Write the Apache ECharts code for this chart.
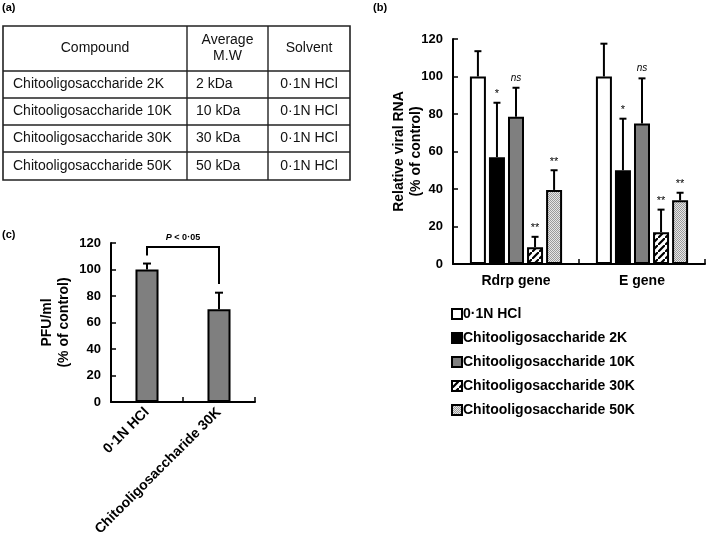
<!DOCTYPE html>
<html><head><meta charset="utf-8">
<script src="https://cdn.jsdelivr.net/npm/echarts@6/dist/echarts.min.js"></script>
<style>html,body{margin:0;padding:0;background:#fff;}#main{width:709px;height:543px;}</style>
</head><body><div id="main"></div>
<script>
// ---------- data ----------
const tableHeader = ['Compound', 'Average\nM.W', 'Solvent'];
const tableCompounds = ['Chitooligosaccharide 2K', 'Chitooligosaccharide 10K', 'Chitooligosaccharide 30K', 'Chitooligosaccharide 50K'];
const tableMW = ['2 kDa', '10 kDa', '30 kDa', '50 kDa'];
const tableSolvent = ['0·1N HCl', '0·1N HCl', '0·1N HCl', '0·1N HCl'];

const genes = ['Rdrp gene', 'E gene'];
const seriesNames = ['0·1N HCl', 'Chitooligosaccharide 2K', 'Chitooligosaccharide 10K', 'Chitooligosaccharide 30K', 'Chitooligosaccharide 50K'];
const hclVals = [100, 100];   const hclErr = [13.5, 17.5];
const k2Vals = [57, 50];      const k2Err = [29, 27.5];
const k10Vals = [78.5, 75];   const k10Err = [15.5, 24];
const k30Vals = [9, 17];      const k30Err = [5.5, 12];
const k50Vals = [39.5, 34];   const k50Err = [10.5, 4];
const hclSig = ['', ''];
const k2Sig = ['*', '*'];
const k10Sig = ['ns', 'ns'];
const k30Sig = ['**', '**'];
const k50Sig = ['**', '**'];
const yTicksB = [0, 20, 40, 60, 80, 100, 120];

const pfuCats = ['0·1N HCl', 'Chitooligosaccharide 30K'];
const pfuVals = [100, 70];
const pfuErr = [4.5, 12.5];

// ---------- patterns ----------
function hatch() {
  const n = 7;
  const c = document.createElement('canvas'); c.width = n; c.height = n;
  const g = c.getContext('2d'); g.fillStyle = '#fff'; g.fillRect(0, 0, n, n);
  g.strokeStyle = '#000'; g.lineWidth = 2.2;
  g.beginPath();
  g.moveTo(-1, n + 1); g.lineTo(n + 1, -1);
  g.moveTo(-n - 1, 1); g.lineTo(1, -n - 1);
  g.moveTo(n - 1, 2 * n + 1); g.lineTo(2 * n + 1, n - 1);
  g.stroke();
  return c;
}
function dots() {
  const c = document.createElement('canvas'); c.width = 2; c.height = 2;
  const g = c.getContext('2d'); g.fillStyle = '#e6e6e6'; g.fillRect(0, 0, 2, 2);
  g.fillStyle = '#9a9a9a'; g.fillRect(0, 0, 1, 1); g.fillRect(1, 1, 1, 1);
  return c;
}
const fills = ['#ffffff', '#000000', '#7f7f7f', { image: hatch(), repeat: 'repeat' }, { image: dots(), repeat: 'repeat' }];

const FONT = '"Liberation Sans", Arial, sans-serif';
const valsAll = [hclVals, k2Vals, k10Vals, k30Vals, k50Vals];
const errAll = [hclErr, k2Err, k10Err, k30Err, k50Err];
const sigAll = [hclSig, k2Sig, k10Sig, k30Sig, k50Sig];

// ---------- table graphics ----------
const tX = [3, 187, 268, 350];
const tY = [26, 71, 98, 125, 152, 180];
const graphics = [];
const lineStyle = { stroke: '#222', lineWidth: 1.4 };
graphics.push({ type: 'rect', shape: { x: tX[0], y: tY[0], width: tX[3] - tX[0], height: tY[5] - tY[0] }, style: { fill: 'none', stroke: '#222', lineWidth: 1.6 } });
for (let i = 1; i < tY.length - 1; i++) graphics.push({ type: 'line', shape: { x1: tX[0], y1: tY[i], x2: tX[3], y2: tY[i] }, style: lineStyle });
for (let j = 1; j < tX.length - 1; j++) graphics.push({ type: 'line', shape: { x1: tX[j], y1: tY[0], x2: tX[j], y2: tY[5] }, style: lineStyle });
const tfont = { fontFamily: FONT, fontSize: 14, fill: '#111' };
tableHeader.forEach((h, j) => {
  graphics.push({ type: 'text', x: (tX[j] + tX[j + 1]) / 2, y: (tY[0] + tY[1]) / 2, style: Object.assign({ text: h, align: 'center', verticalAlign: 'middle', lineHeight: 16 }, tfont) });
});
const cols = [tableCompounds, tableMW, tableSolvent];
tableCompounds.forEach((_, i) => {
  const cy = (tY[i + 1] + tY[i + 2]) / 2;
  graphics.push({ type: 'text', x: tX[0] + 10, y: cy, style: Object.assign({ text: cols[0][i], align: 'left', verticalAlign: 'middle' }, tfont) });
  graphics.push({ type: 'text', x: tX[1] + 9, y: cy, style: Object.assign({ text: cols[1][i], align: 'left', verticalAlign: 'middle' }, tfont) });
  graphics.push({ type: 'text', x: (tX[2] + tX[3]) / 2, y: cy, style: Object.assign({ text: cols[2][i], align: 'center', verticalAlign: 'middle' }, tfont) });
});
[['(a)', 2, 8], ['(b)', 373, 8], ['(c)', 2, 235]].forEach(p => {
  graphics.push({ type: 'text', x: p[1], y: p[2], style: { text: p[0], fontFamily: FONT, fontWeight: 'bold', fontSize: 11, fill: '#000', verticalAlign: 'middle' } });
});

// ---------- chart ----------
const axisCommon = {
  axisLine: { show: true, lineStyle: { color: '#000', width: 2 } },
  axisTick: { show: true, inside: true, length: 5, lineStyle: { color: '#000', width: 1.5 } },
  splitLine: { show: false }
};
const BAR_W = 0.127, GAP = 0.19;

const series = seriesNames.map((name, s) => ({
  name, type: 'bar', xAxisIndex: 0, yAxisIndex: 0,
  data: valsAll[s], barWidth: (BAR_W * 100) + '%', barGap: (GAP * 100) + '%',
  itemStyle: { color: fills[s], borderColor: '#000', borderWidth: 2 },
  emphasis: { disabled: true }, animation: false
}));

const errData = [];
genes.forEach((g, gi) => seriesNames.forEach((n, s) => errData.push([gi, valsAll[s][gi], errAll[s][gi], s, sigAll[s][gi]])));
series.push({
  type: 'custom', xAxisIndex: 0, yAxisIndex: 0, animation: false, silent: true,
  data: errData,
  renderItem(params, api) {
    const gi = api.value(0), v = api.value(1), e = api.value(2), s = api.value(3);
    const sig = errData[params.dataIndex][4];
    const band = api.size([1, 0])[0];
    const bw = band * BAR_W, gap = bw * GAP, total = 5 * bw + 4 * gap;
    const c = api.coord([gi, 0]);
    const x = c[0] - total / 2 + s * (bw + gap) + bw / 2;
    const y0 = api.coord([gi, v])[1], y1 = api.coord([gi, v + e])[1];
    const st = { stroke: '#000', lineWidth: 2 };
    const ch = [
      { type: 'line', shape: { x1: x, y1: y0, x2: x, y2: y1 }, style: st },
      { type: 'line', shape: { x1: x - 3.5, y1: y1, x2: x + 3.5, y2: y1 }, style: st }
    ];
    if (sig) ch.push({ type: 'text', x: x, y: y1 - (sig === 'ns' ? 5 : 3), style: { text: sig, align: 'center', verticalAlign: 'bottom', fontFamily: FONT, fontSize: sig === 'ns' ? 10 : 11, fontStyle: sig === 'ns' ? 'italic' : 'normal', fill: '#000' } });
    return { type: 'group', children: ch };
  }
});

series.push({
  type: 'bar', xAxisIndex: 1, yAxisIndex: 1, data: pfuVals, barWidth: '32%',
  itemStyle: { color: '#7f7f7f', borderColor: '#000', borderWidth: 2 }, emphasis: { disabled: true }, animation: false
});
series.push({
  type: 'custom', xAxisIndex: 1, yAxisIndex: 1, animation: false, silent: true,
  data: pfuVals.map((v, i) => [i, v, pfuErr[i]]),
  renderItem(params, api) {
    const i = api.value(0), v = api.value(1), e = api.value(2);
    const p0 = api.coord([i, v]), p1 = api.coord([i, v + e]);
    const st = { stroke: '#000', lineWidth: 2 };
    const ch = [
      { type: 'line', shape: { x1: p0[0], y1: p0[1], x2: p0[0], y2: p1[1] }, style: st },
      { type: 'line', shape: { x1: p0[0] - 4, y1: p1[1], x2: p0[0] + 4, y2: p1[1] }, style: st }
    ];
    if (params.dataIndex === 0) {
      const a = api.coord([0, 110.5]), b = api.coord([0, 117]), c = api.coord([1, 117]), d = api.coord([1, 89]);
      ch.push({ type: 'polyline', shape: { points: [a, b, c, d] }, style: { stroke: '#000', lineWidth: 2, fill: 'none' } });
      ch.push({ type: 'text', x: (b[0] + c[0]) / 2, y: b[1] - 5, style: {
        text: '{i|P} < 0·05', align: 'center', verticalAlign: 'bottom', fontFamily: FONT, fontSize: 9, fontWeight: 'bold', fill: '#000',
        rich: { i: { fontStyle: 'italic', fontWeight: 'bold', fontSize: 9, fontFamily: FONT } } } });
    }
    return { type: 'group', children: ch };
  }
});

const chart = echarts.init(document.getElementById('main'), null, { renderer: 'canvas' });
chart.setOption({
  backgroundColor: '#fff',
  animation: false,
  textStyle: { fontFamily: FONT },
  grid: [
    { left: 453, top: 39, width: 252, height: 225 },
    { left: 111, top: 243, width: 144, height: 159 }
  ],
  xAxis: [
    Object.assign({}, axisCommon, { gridIndex: 0, type: 'category', data: genes,
      axisLabel: { color: '#000', fontWeight: 'bold', fontSize: 14, margin: 10 } }),
    Object.assign({}, axisCommon, { gridIndex: 1, type: 'category', data: pfuCats,
      axisLabel: { color: '#000', fontWeight: 'bold', fontSize: 14, rotate: 45, margin: 8, interval: 0 } })
  ],
  yAxis: [
    Object.assign({}, axisCommon, { gridIndex: 0, type: 'value', min: yTicksB[0], max: yTicksB[yTicksB.length - 1], interval: 20,
      axisLabel: { color: '#000', fontWeight: 'bold', fontSize: 13, margin: 10 },
      name: 'Relative viral RNA\n(% of control)', nameLocation: 'middle', nameGap: 28, nameRotate: 90, nameMoveOverlap: false,
      nameTextStyle: { color: '#000', fontWeight: 'bold', fontSize: 14, lineHeight: 17 } }),
    Object.assign({}, axisCommon, { gridIndex: 1, type: 'value', min: 0, max: 120, interval: 20,
      axisLabel: { color: '#000', fontWeight: 'bold', fontSize: 13, margin: 10 },
      name: 'PFU/ml\n(% of control)', nameLocation: 'middle', nameGap: 38, nameRotate: 90,
      nameTextStyle: { color: '#000', fontWeight: 'bold', fontSize: 14, lineHeight: 17 } })
  ],
  legend: {
    orient: 'vertical', left: 446, top: 302, itemWidth: 10, itemHeight: 10, itemGap: 10,
    icon: 'rect', selectedMode: false, data: seriesNames,
    textStyle: { color: '#000', fontWeight: 'bold', fontSize: 14, padding: [0, 0, 0, -4] }
  },
  graphic: graphics,
  series
});
</script></body></html>
